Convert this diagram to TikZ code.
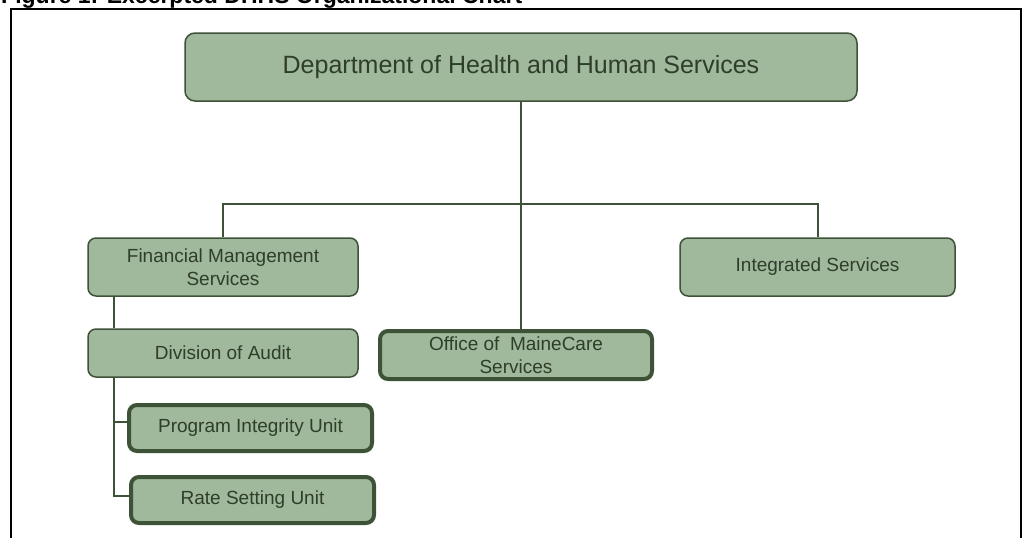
\documentclass[tikz,border=0pt]{standalone}
\usepackage{fontspec}
\setmainfont{Liberation Sans}
\definecolor{boxfill}{RGB}{160,184,156}
\definecolor{boxline}{RGB}{62,82,56}
\definecolor{txt}{RGB}{46,62,42}
\begin{document}
\begin{tikzpicture}[x=1pt,y=-1pt,
  box/.style={draw=boxline, fill=boxfill, rounded corners=8pt, line width=1.5pt,
    text=txt, align=center, font=\fontsize{19}{23}\selectfont, inner sep=0pt},
  thickbox/.style={box, line width=4pt},
  conn/.style={draw=boxline, line width=2pt},
  frame/.style={draw=black, line width=1.5pt}]
\useasboundingbox (0,0) rectangle (1026,538);
% title (cut off at the top, as in the reference)
\node[anchor=base west, inner sep=0pt, font=\bfseries\fontsize{23}{23}\selectfont] (title) at (1,3.5) {Figure 1: Excerpted DHHS Organizational Chart};
% frame
\coordinate (fbl) at (11,545);
\coordinate (ftl) at (11,9);
\coordinate (ftr) at (1021,9);
\coordinate (fbr) at (1021,545);
\draw[frame] (fbl) -- (ftl) -- (ftr) -- (fbr);
% boxes
\node[box, rounded corners=10pt, minimum width=672pt, minimum height=68pt, font=\fontsize{25}{30}\selectfont] (top) at (521,67) {Department of Health and Human Services};
\node[box, minimum width=270pt, minimum height=58pt] (fms) at (223,267) {Financial Management\\Services};
\node[box, minimum width=270pt, minimum height=48pt] (doa) at (223,353) {Division of Audit};
\node[box, minimum width=275pt, minimum height=58pt] (isv) at (817.5,267) {Integrated Services};
\node[thickbox, minimum width=272pt, minimum height=48pt] (moc) at (516,355) {Office of\ \ MaineCare\\Services};
\node[thickbox, minimum width=243pt, minimum height=46pt] (piu) at (250.5,428) {Program Integrity Unit};
\node[thickbox, minimum width=243pt, minimum height=46pt] (rsu) at (252.5,500) {Rate Setting Unit};
% connectors
\draw[conn] (top.south) -- (top.south |- moc.north);
\draw[conn] (fms.north) -- ++(0,-33) -| (isv.north);
\draw[conn] ([xshift=27pt]fms.south west) -- ([xshift=27pt]doa.north west);
\draw[conn] ([xshift=27pt]doa.south west) |- ([yshift=6pt]piu.west);
\draw[conn] ([xshift=27pt]doa.south west) |- ([yshift=4pt]rsu.west);
\end{tikzpicture}
\end{document}
